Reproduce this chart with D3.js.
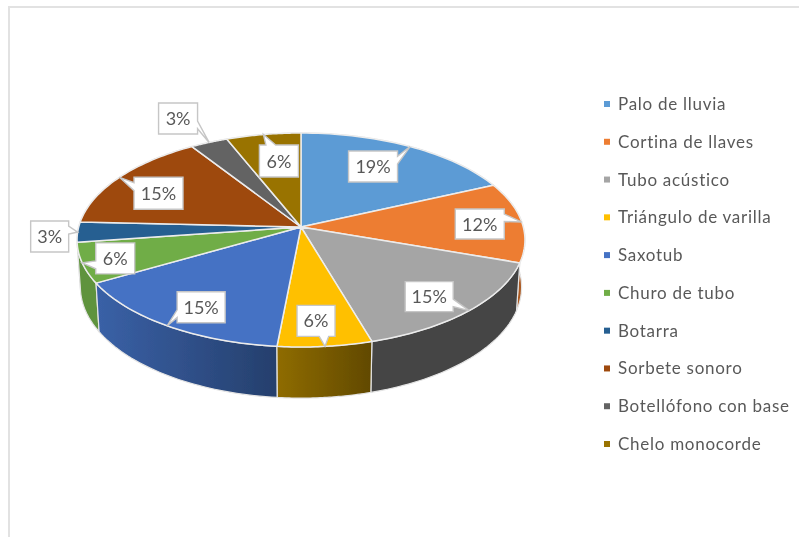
<!DOCTYPE html>
<html><head><meta charset="utf-8">
<script src="https://cdn.jsdelivr.net/npm/d3@7"></script>
<style>html,body{margin:0;padding:0;background:#fff}svg{display:block}
text{font-family:Lato,"Open Sans",sans-serif;fill:#595959}</style></head>
<body><svg id="c" width="799" height="537"></svg>
<script>
const categories = ["Palo de lluvia","Cortina de llaves","Tubo acústico","Triángulo de varilla","Saxotub","Churo de tubo","Botarra","Sorbete sonoro","Botellófono con base","Chelo monocorde"];
const values = [6,4,5,2,5,2,1,5,1,2];
const percentLabels = ["19%","12%","15%","6%","15%","6%","3%","15%","3%","6%"];
const colors = ["#5B9BD5","#ED7D31","#A5A5A5","#FFC000","#4472C4","#70AD47","#255E91","#9E480E","#636363","#997300"];

// layout
const W=799,H=537, cx=301, cy=227, R=222.3, B=105.4, persp=0.1215, depth=46.5, bottomScale=0.985;
const wallShade = [[.5,.5],[.72,.72],[.42,.42],[.56,.38],[.85,.55],[.85,.85],[.6,.6],[.6,.6],[.6,.6],[.6,.6]];
const boxOffset = [[-37,20],[-42,2],[-40,-14],[-9,-25.5],[34,-18.5],[33,-4.5],[-28,4.5],[39,16],[-31,-24],[15.5,26.5]];
const boxSize = [[49,31],[49,30],[48,30],[38,31],[48,31],[39,31],[38,31],[49,32],[39,31],[39,32]];
const legendX=604, legendTextX=618, legendY=d3.scaleLinear().domain([0,9]).range([104,444]);

const svg=d3.select("#c");
const defs=svg.append("defs");
const soft=defs.append("filter").attr("id","soft").attr("x","-5%").attr("y","-5%").attr("width","110%").attr("height","110%");
soft.append("feGaussianBlur").attr("stdDeviation",0.55);
svg.append("rect").attr("width",W).attr("height",H).attr("fill","#fff");
const root=svg.append("g").attr("filter","url(#soft)");
root.append("path").attr("d",`M9,${H}V7H${W}`).attr("fill","none").attr("stroke","#e2e2e2").attr("stroke-width",2);

const pie=d3.pie().sort(null).value(d=>d);
const arcs=pie(values);
const topRim=a=>{const w=1+persp*Math.cos(a);return [cx+R*Math.sin(a)/w, cy-B*Math.cos(a)/w];};
const botRim=a=>{const w=1+persp*Math.cos(a);return [cx+bottomScale*R*Math.sin(a)/w, cy-bottomScale*B*Math.cos(a)/w+depth/w];};
const samples=(a0,a1)=>d3.range(0,41).map(i=>a0+(a1-a0)*i/40);
const line=d3.line();

// side walls, back to front
const order=arcs.map((d,i)=>i).sort((p,q)=>Math.cos((arcs[q].startAngle+arcs[q].endAngle)/2)-Math.cos((arcs[p].startAngle+arcs[p].endAngle)/2));
order.forEach(i=>{
  const d=arcs[i], aa=samples(d.startAngle,d.endAngle);
  const pts=aa.map(topRim).concat(aa.slice().reverse().map(botRim));
  const xs=pts.map(p=>p[0]);
  const g=defs.append("linearGradient").attr("id","w"+i).attr("gradientUnits","userSpaceOnUse")
    .attr("x1",d3.min(xs)).attr("x2",d3.max(xs)).attr("y1",0).attr("y2",0);
  const shade=f=>{const c=d3.rgb(colors[i]);return d3.rgb(c.r*f,c.g*f,c.b*f).formatHex();};
  g.append("stop").attr("offset",0).attr("stop-color",shade(wallShade[i][0]));
  g.append("stop").attr("offset",1).attr("stop-color",shade(wallShade[i][1]));
  root.append("path").attr("d",line(pts)+"Z").attr("fill",`url(#w${i})`).attr("stroke","#e4e4e4").attr("stroke-width",1.2).attr("stroke-linejoin","round");
});
// top faces
arcs.forEach((d,i)=>{
  const pts=[[cx,cy]].concat(samples(d.startAngle,d.endAngle).map(topRim));
  root.append("path").attr("d",line(pts)+"Z").attr("fill",colors[i]).attr("stroke","#ececec").attr("stroke-width",1.5).attr("stroke-linejoin","round");
});
// callout labels
arcs.forEach((d,i)=>{
  const mid=(d.startAngle+d.endAngle)/2, tip=topRim(mid);
  const [w,h]=boxSize[i], x=tip[0]+boxOffset[i][0]-w/2, y=tip[1]+boxOffset[i][1]-h/2;
  const dx=(tip[0]-(x+w/2))/w, dy=(tip[1]-(y+h/2))/h;
  let p;
  if(Math.abs(dx)>Math.abs(dy)){
    const f=dy<0?[2/12,5/12]:[7/12,10/12];
    if(dx>0) p=[[x,y],[x+w,y],[x+w,y+h*f[0]],tip,[x+w,y+h*f[1]],[x+w,y+h],[x,y+h]];
    else p=[[x,y],[x+w,y],[x+w,y+h],[x,y+h],[x,y+h*f[1]],tip,[x,y+h*f[0]]];
  } else {
    const f=dx<0?[2/12,5/12]:[7/12,10/12];
    if(dy<0) p=[[x,y],[x+w*f[0],y],tip,[x+w*f[1],y],[x+w,y],[x+w,y+h],[x,y+h]];
    else p=[[x,y],[x+w,y],[x+w,y+h],[x+w*f[1],y+h],tip,[x+w*f[0],y+h],[x,y+h]];
  }
  root.append("path").attr("d",line(p)+"Z").attr("fill","#fff").attr("stroke","#c6c6c6").attr("stroke-width",1.4);
  root.append("text").attr("x",x+w/2).attr("y",y+h/2+6.5).attr("text-anchor","middle").attr("font-size",18).text(percentLabels[i]);
});
// legend
categories.forEach((c,i)=>{
  const y=legendY(i);
  root.append("rect").attr("x",legendX).attr("y",y-3).attr("width",6).attr("height",6).attr("fill",colors[i]);
  root.append("text").attr("x",legendTextX).attr("y",y+6).attr("font-size",17).attr("letter-spacing",0.72).text(c);
});
</script></body></html>
